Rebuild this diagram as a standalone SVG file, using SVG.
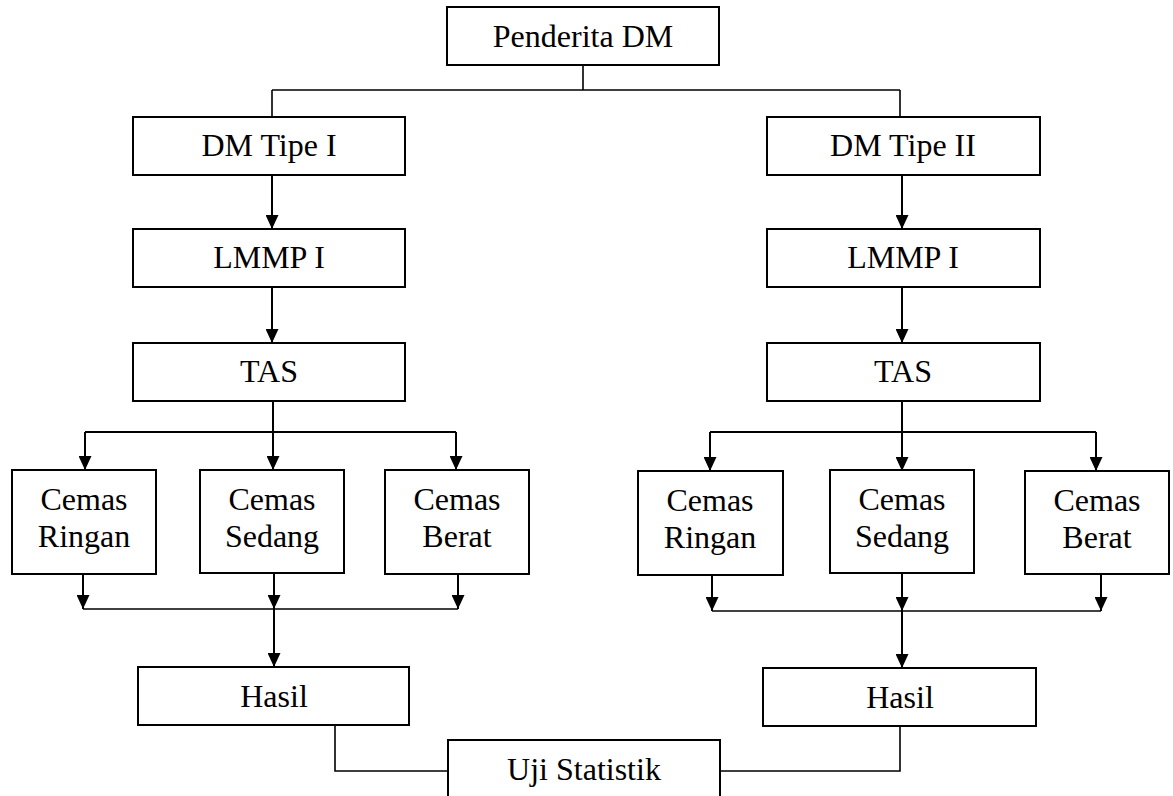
<svg xmlns="http://www.w3.org/2000/svg" width="1173" height="796" viewBox="0 0 1173 796">
  <defs>
    <marker id="arrow" viewBox="0 0 14 13" refX="14" refY="6.5" markerWidth="14" markerHeight="13" markerUnits="userSpaceOnUse" orient="auto">
      <path d="M0,0 L14,6.5 L0,13 z" fill="#000"/>
    </marker>
    <style>
      .box { fill: #fff; stroke: #000; stroke-width: 2; }
      .lbl { font-family: "Liberation Serif", "Times New Roman", serif; font-size: 32px; fill: #000; text-anchor: middle; }
      .ln { fill: none; stroke: #000; stroke-width: 1.6; }
      .ar { fill: none; stroke: #000; stroke-width: 2; marker-end: url(#arrow); }
    </style>
  </defs>
  <rect width="1173" height="796" fill="#fff"/>

  <!-- connectors -->
  <g id="connectors">
    <path class="ln" d="M583,65 V90 M272,90 H900 M272,90 V117 M900,90 V117"/>
    <!-- left branch -->
    <line class="ar" x1="272" y1="175" x2="272" y2="229"/>
    <line class="ar" x1="272" y1="287" x2="272" y2="343"/>
    <line class="ar" x1="273" y1="401" x2="273" y2="470"/>
    <path class="ln" d="M85,432 H456" style="stroke-width:2"/>
    <line class="ar" x1="85" y1="432" x2="85" y2="470"/>
    <line class="ar" x1="456" y1="432" x2="456" y2="470"/>
    <line class="ar" x1="83" y1="574" x2="83" y2="609"/>
    <line class="ar" x1="274" y1="573" x2="274" y2="609"/>
    <line class="ar" x1="458" y1="574" x2="458" y2="609"/>
    <path class="ln" d="M83,609 H458"/>
    <line class="ar" x1="274" y1="609" x2="274" y2="667"/>
    <!-- right branch -->
    <line class="ar" x1="902" y1="175" x2="902" y2="229"/>
    <line class="ar" x1="902" y1="287" x2="902" y2="343"/>
    <line class="ar" x1="902" y1="401" x2="902" y2="471"/>
    <path class="ln" d="M710,432 H1096" style="stroke-width:2"/>
    <line class="ar" x1="710" y1="432" x2="710" y2="471"/>
    <line class="ar" x1="1096" y1="432" x2="1096" y2="471"/>
    <line class="ar" x1="712" y1="575" x2="712" y2="611"/>
    <line class="ar" x1="902" y1="573" x2="902" y2="611"/>
    <line class="ar" x1="1101" y1="574" x2="1101" y2="611"/>
    <path class="ln" d="M712,611 H1101"/>
    <line class="ar" x1="902" y1="611" x2="902" y2="668"/>
    <!-- results to statistics -->
    <path class="ln" d="M335,725 V771 H448"/>
    <path class="ln" d="M900,726 V771 H720"/>
  </g>

  <g id="penderita-dm">
    <rect class="box" x="447" y="7" width="272" height="58"/>
    <text class="lbl" x="583" y="47">Penderita DM</text>
  </g>

  <g id="dm-tipe-1">
    <rect class="box" x="133" y="117" width="272" height="58"/>
    <text class="lbl" x="269" y="156">DM Tipe I</text>
  </g>
  <g id="lmmp-1">
    <rect class="box" x="133" y="229" width="272" height="58"/>
    <text class="lbl" x="269" y="268">LMMP I</text>
  </g>
  <g id="tas-1">
    <rect class="box" x="133" y="343" width="272" height="58"/>
    <text class="lbl" x="269" y="382">TAS</text>
  </g>
  <g id="cemas-ringan-1">
    <rect class="box" x="12" y="470" width="144" height="104"/>
    <text class="lbl" x="84" y="510">Cemas</text>
    <text class="lbl" x="84" y="547">Ringan</text>
  </g>
  <g id="cemas-sedang-1">
    <rect class="box" x="200" y="470" width="144" height="103"/>
    <text class="lbl" x="272" y="510">Cemas</text>
    <text class="lbl" x="272" y="547">Sedang</text>
  </g>
  <g id="cemas-berat-1">
    <rect class="box" x="385" y="470" width="144" height="104"/>
    <text class="lbl" x="457" y="510">Cemas</text>
    <text class="lbl" x="457" y="547">Berat</text>
  </g>
  <g id="hasil-1">
    <rect class="box" x="138" y="667" width="271" height="58"/>
    <text class="lbl" x="274" y="707">Hasil</text>
  </g>

  <g id="dm-tipe-2">
    <rect class="box" x="767" y="117" width="273" height="58"/>
    <text class="lbl" x="903" y="156">DM Tipe II</text>
  </g>
  <g id="lmmp-2">
    <rect class="box" x="767" y="229" width="273" height="58"/>
    <text class="lbl" x="903" y="268">LMMP I</text>
  </g>
  <g id="tas-2">
    <rect class="box" x="767" y="343" width="273" height="58"/>
    <text class="lbl" x="903" y="382">TAS</text>
  </g>
  <g id="cemas-ringan-2">
    <rect class="box" x="638" y="471" width="145" height="104"/>
    <text class="lbl" x="710" y="511">Cemas</text>
    <text class="lbl" x="710" y="548">Ringan</text>
  </g>
  <g id="cemas-sedang-2">
    <rect class="box" x="830" y="470" width="144" height="103"/>
    <text class="lbl" x="902" y="510">Cemas</text>
    <text class="lbl" x="902" y="547">Sedang</text>
  </g>
  <g id="cemas-berat-2">
    <rect class="box" x="1025" y="471" width="144" height="103"/>
    <text class="lbl" x="1097" y="511">Cemas</text>
    <text class="lbl" x="1097" y="548">Berat</text>
  </g>
  <g id="hasil-2">
    <rect class="box" x="763" y="668" width="273" height="58"/>
    <text class="lbl" x="900" y="708">Hasil</text>
  </g>

  <g id="uji-statistik">
    <rect class="box" x="448" y="740" width="272" height="70"/>
    <text class="lbl" x="584" y="780">Uji Statistik</text>
  </g>
</svg>
